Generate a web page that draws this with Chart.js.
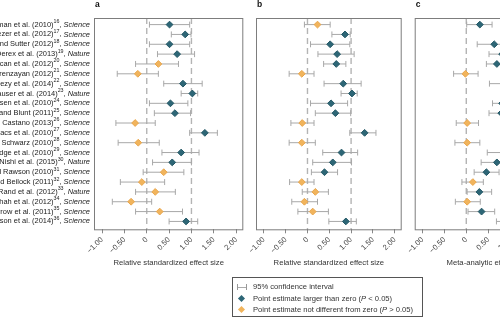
<!DOCTYPE html>
<html>
<head>
<meta charset="utf-8">
<script src="https://cdn.jsdelivr.net/npm/chart.js@4.4.1/dist/chart.umd.min.js"></script>
<style>
  body { margin: 0; width: 500px; height: 319px; overflow: hidden; position: relative; background: #fff;
         font-family: "Liberation Sans", Arial, sans-serif; }
  canvas { position: absolute; top: 0; }
  #legend { position: absolute; left: 232px; top: 277px; width: 189px; height: 38px; border: 1px solid #555;
            font-size: 7.6px; color: #333; }
  #legend .item { position: absolute; left: 20px; white-space: nowrap; line-height: 10px; }
  #legend .ico { position: absolute; left: 4px; }
  .ci { width: 10px; height: 6px; border-left: 1px solid #999; border-right: 1px solid #999; box-sizing: border-box; }
  .ci:after { content: ""; position: absolute; left: 0; right: 0; top: 2.5px; border-top: 1px solid #aaa; }
  .dia { width: 5px; height: 5px; transform: rotate(45deg); margin-left: 2px; }
</style>
</head>
<body>
<canvas id="panelA" width="260" height="268" style="left:0px"></canvas>
<canvas id="panelB" width="205" height="268" style="left:215px"></canvas>
<canvas id="panelC" width="205" height="268" style="left:374px"></canvas>
<div id="legend">
  <div class="ico ci" style="top:6px"></div>
  <div class="item" style="top:4px">95% confidence interval</div>
  <div class="ico dia" style="top:18px;background:#2d6676"></div>
  <div class="item" style="top:16px">Point estimate larger than zero (<i>P</i> &lt; 0.05)</div>
  <div class="ico dia" style="top:29px;background:#f1b45c"></div>
  <div class="item" style="top:27px">Point estimate not different from zero (<i>P</i> &gt; 0.05)</div>
</div>
<script>
// Studien (von oben nach unten)
const autores = [
    'Ackerman et al. (2010)', 'Aviezer et al. (2012)', 'Balafoutas and Sutter (2012)', 'Derex et al. (2013)',
    'Duncan et al. (2012)', 'Gervais and Norenzayan (2012)', 'Gneezy et al. (2014)', 'Hauser et al. (2014)',
    'Janssen et al. (2010)', 'Karpicke and Blunt (2011)', 'Kidd and Castano (2013)', 'Kovacs et al. (2010)',
    'Lee and Schwarz (2010)', 'Morewedge et al. (2010)', 'Nishi et al. (2015)', 'Pyc and Rawson (2010)',
    'Ramirez and Beilock (2011)', 'Rand et al. (2012)', 'Shah et al. (2012)', 'Sparrow et al. (2011)',
    'Wilson et al. (2014)'
];
const referencias = ['16','17','18','19','20','21','22','23','24','25','26','27','28','29','30','31','32','33','34','35','36'];
const revistas = ['Science','Science','Science','Nature','Science','Science','Science','Nature','Science','Science',
    'Science','Science','Science','Science','Nature','Science','Science','Nature','Science','Science','Science'];

// Painel a
const estA = [0.51, 0.86, 0.51, 0.68, 0.26, -0.20, 0.81, 1.02, 0.53, 0.63, -0.26, 1.30, -0.19, 0.77, 0.57, 0.38, -0.11, 0.19, -0.35, 0.29, 0.88];
const infA = [0.06, 0.55, 0.06, 0.24, -0.25, -0.66, 0.38, 0.77, 0.06, 0.17, -0.69, 0.96, -0.64, 0.34, 0.13, -0.08, -0.59, -0.25, -0.77, -0.25, 0.50];
const supA = [0.96, 0.99, 0.96, 1.07, 0.71, 0.26, 1.24, 1.14, 0.92, 0.98, 0.19, 1.58, 0.28, 1.17, 1.00, 0.83, 0.40, 0.64, 0.11, 0.80, 1.14];

// Painel b
const estB = [0.23, 0.86, 0.52, 0.68, 0.66, -0.13, 0.82, 1.02, 0.54, 0.64, -0.12, 1.31, -0.13, 0.78, 0.58, 0.39, -0.13, 0.18, -0.07, 0.12, 0.88];
const infB = [-0.07, 0.56, 0.07, 0.24, 0.37, -0.42, 0.38, 0.77, 0.07, 0.18, -0.38, 0.97, -0.42, 0.35, 0.12, 0.09, -0.41, -0.12, -0.36, -0.22, 0.49];
const supB = [0.52, 0.98, 0.97, 1.07, 0.88, 0.15, 1.23, 1.14, 0.92, 0.99, 0.15, 1.57, 0.18, 1.15, 1.01, 0.69, 0.15, 0.48, 0.23, 0.48, 1.12];

// Painel c (meta-análise)
const estC = [0.31, 1.00, 0.64, 0.82, 0.70, -0.02, 0.95, 1.10, 0.82, 0.80, 0.02, 1.25, 0.02, 0.90, 0.70, 0.46, 0.15, 0.30, 0.02, 0.35, 0.95];
const infC = [0.01, 0.82, 0.25, 0.52, 0.46, -0.29, 0.53, 0.85, 0.60, 0.52, -0.23, 0.95, -0.26, 0.48, 0.34, 0.18, -0.10, 0.02, -0.25, 0.04, 0.69];
const supC = [0.59, 1.20, 1.02, 1.12, 0.95, 0.27, 1.35, 1.35, 1.05, 1.08, 0.28, 1.55, 0.31, 1.30, 1.05, 0.75, 0.39, 0.58, 0.32, 0.65, 1.22];

const ticksX = [-1, -0.5, 0, 0.5, 1, 1.5, 2];
const linhasRef = [0, 1];

const CORES = { sig: '#2d6676', sigBorda: '#245866', ns: '#f1b45c', nsBorda: '#e9a64c', ic: '#a8a8a8', caixa: '#7d7d7d' };
Chart.defaults.font.family = '"Liberation Sans", Arial, sans-serif';

function formatarTick(v) {
    if (v === 0) return '0';
    return (v < 0 ? '\u2212' : '') + Math.abs(v).toFixed(2);
}

function desenharRotulos(ctx, area, yScale) {
    const fonte = '7.45px "Liberation Sans", Arial, sans-serif';
    const fonteIt = 'italic 7.45px "Liberation Sans", Arial, sans-serif';
    const fonteSup = '5.3px "Liberation Sans", Arial, sans-serif';
    ctx.fillStyle = '#222';
    ctx.textBaseline = 'middle';
    ctx.textAlign = 'left';
    autores.forEach((nome, i) => {
        const y = yScale.getPixelForValue(i + 1);
        const partes = [
            { t: nome, f: fonte, dy: 0 },
            { t: referencias[i], f: fonteSup, dy: -3 },
            { t: ', ', f: fonte, dy: 0 },
            { t: revistas[i], f: fonteIt, dy: 0 }
        ];
        let total = 0;
        partes.forEach(p => { ctx.font = p.f; p.w = ctx.measureText(p.t).width; total += p.w; });
        let x = area.left - 4 - total;
        partes.forEach(p => { ctx.font = p.f; ctx.fillText(p.t, x, y + p.dy); x += p.w; });
    });
}

function criarPainel(id, letra, titulo, est, inf, sup, padEsq, padDir, rotulos) {
    const sig = [], ns = [];
    est.forEach((v, i) => {
        (inf[i] > 0 ? sig : ns).push({ x: v, y: i + 1 });
    });

    const pluginPainel = {
        id: 'painel' + letra,
        beforeDatasetsDraw(chart) {
            const { ctx, chartArea: a, scales: { x, y } } = chart;
            ctx.save();
            ctx.beginPath();
            ctx.rect(a.left, a.top, a.right - a.left, a.bottom - a.top);
            ctx.clip();
            // linhas tracejadas de referência
            ctx.strokeStyle = '#b4b4b4';
            ctx.lineWidth = 1.4;
            ctx.setLineDash([6, 4]);
            linhasRef.forEach(v => {
                const px = x.getPixelForValue(v);
                ctx.beginPath();
                ctx.moveTo(px, a.top);
                ctx.lineTo(px, a.bottom);
                ctx.stroke();
            });
            ctx.setLineDash([]);
            // intervalos de confiança
            ctx.strokeStyle = CORES.ic;
            ctx.lineWidth = 1;
            est.forEach((v, i) => {
                const py = y.getPixelForValue(i + 1);
                const x0 = x.getPixelForValue(inf[i]);
                const x1 = x.getPixelForValue(sup[i]);
                ctx.beginPath();
                ctx.moveTo(x0, py); ctx.lineTo(x1, py);
                ctx.moveTo(x0, py - 3); ctx.lineTo(x0, py + 3);
                ctx.moveTo(x1, py - 3); ctx.lineTo(x1, py + 3);
                ctx.stroke();
            });
            ctx.restore();
        },
        afterDraw(chart) {
            const { ctx, chartArea: a, scales: { y } } = chart;
            ctx.save();
            ctx.strokeStyle = CORES.caixa;
            ctx.lineWidth = 1;
            ctx.strokeRect(a.left + 0.5, a.top + 0.5, a.right - a.left - 1, a.bottom - a.top);
            ctx.fillStyle = '#111';
            ctx.font = 'bold 8.5px "Liberation Sans", Arial, sans-serif';
            ctx.textAlign = 'left';
            ctx.textBaseline = 'middle';
            ctx.fillText(letra, a.left + 1, 5);
            if (rotulos) desenharRotulos(ctx, a, y);
            ctx.restore();
        }
    };

    const ctx = document.getElementById(id).getContext('2d');
    return new Chart(ctx, {
        type: 'scatter',
        data: {
            datasets: [
                { data: sig, pointStyle: 'rectRot', pointRadius: 3.4, backgroundColor: CORES.sig, borderColor: CORES.sigBorda, borderWidth: 1 },
                { data: ns, pointStyle: 'rectRot', pointRadius: 3.4, backgroundColor: CORES.ns, borderColor: CORES.nsBorda, borderWidth: 1 }
            ]
        },
        options: {
            responsive: false,
            animation: false,
            layout: { padding: { left: padEsq, right: padDir, top: 18, bottom: 0 } },
            plugins: { legend: { display: false }, tooltip: { enabled: false } },
            scales: {
                y: { type: 'linear', display: false, reverse: true, min: 0.33, max: 21.8 },
                x: {
                    type: 'linear', min: -1.18, max: 2.16,
                    afterBuildTicks: s => { s.ticks = ticksX.map(v => ({ value: v })); },
                    afterFit: s => { s.height = 38.7; },
                    grid: { drawOnChartArea: false, drawTicks: true, tickLength: 4, color: '#888' },
                    border: { display: false },
                    ticks: {
                        autoSkip: false, minRotation: 45, maxRotation: 45, padding: 2,
                        color: '#444', font: { size: 7.6 },
                        callback: v => formatarTick(v)
                    },
                    title: { display: true, text: titulo, color: '#333', font: { size: 7.7 }, padding: 0 }
                }
            }
        },
        plugins: [pluginPainel]
    });
}

criarPainel('panelA', 'a', 'Relative standardized effect size', estA, infA, supA, 94, 16.7, true);
criarPainel('panelB', 'b', 'Relative standardized effect size', estB, infB, supB, 41, 18.3, false);
criarPainel('panelC', 'c', 'Meta-analytic effect size', estC, infC, supC, 40.7, 18.3, false);
</script>
</body>
</html>
